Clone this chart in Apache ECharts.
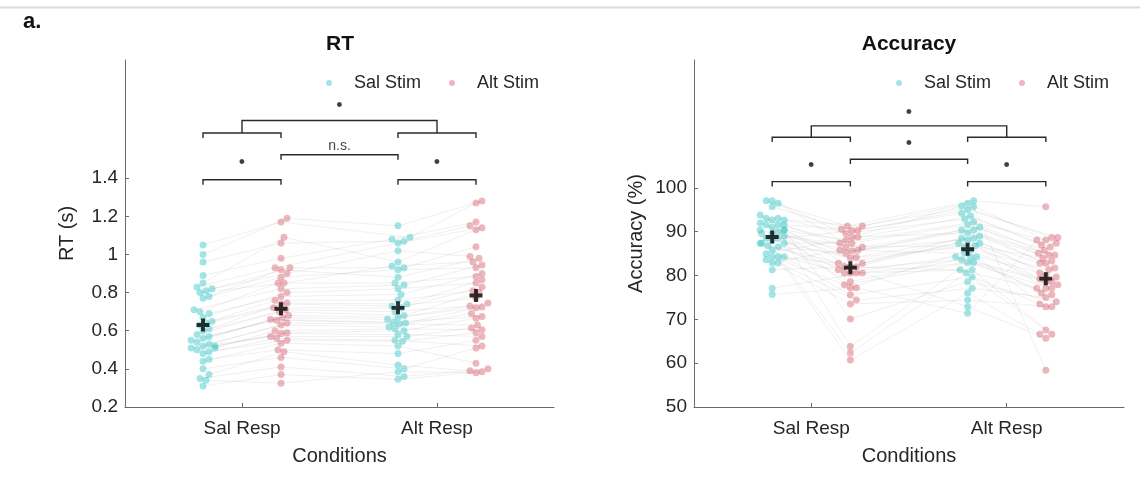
<!DOCTYPE html>
<html><head><meta charset="utf-8">
<script src="https://cdn.jsdelivr.net/npm/echarts@6/dist/echarts.min.js"></script>
<style>html,body{margin:0;padding:0;background:#fff}#c{width:1140px;height:481px}</style>
</head><body><div id="c"></div><script>
// ---------- data ----------
const conditions = ['Sal Resp', 'Alt Resp'];
const stimNames = ['Sal Stim', 'Alt Stim'];
const rtTicks = [0.2, 0.4, 0.6, 0.8, 1, 1.2, 1.4];
const accTicks = [50, 60, 70, 80, 90, 100];

// RT (s), one value per subject
const rtSalRespSalStim = [1.05, 1.00, 0.96, 0.89, 0.85, 0.83, 0.82, 0.81, 0.80, 0.78, 0.77, 0.71, 0.70, 0.69, 0.67, 0.65, 0.64, 0.63, 0.61, 0.60, 0.58, 0.57, 0.56, 0.55, 0.54, 0.53, 0.52, 0.52, 0.51, 0.51, 0.50, 0.49, 0.48, 0.45, 0.44, 0.40, 0.37, 0.35, 0.34, 0.31];
const rtSalRespAltStim = [1.17, 1.19, 1.06, 0.98, 1.09, 0.93, 0.90, 0.93, 0.85, 0.92, 0.88, 0.82, 0.85, 0.78, 0.80, 0.745, 0.76, 0.72, 0.74, 0.70, 0.71, 0.67, 0.68, 0.655, 0.66, 0.63, 0.64, 0.59, 0.60, 0.57, 0.585, 0.55, 0.56, 0.50, 0.535, 0.46, 0.49, 0.41, 0.325, 0.37];
const rtAltRespSalStim = [1.09, 1.15, 1.07, 1.08, 0.96, 1.06, 1.02, 0.93, 0.94, 0.88, 0.92, 0.84, 0.85, 0.79, 0.82, 0.74, 0.76, 0.72, 0.73, 0.68, 0.70, 0.66, 0.67, 0.64, 0.645, 0.62, 0.635, 0.60, 0.61, 0.57, 0.58, 0.545, 0.55, 0.48, 0.52, 0.40, 0.42, 0.36, 0.385, 0.345];
const rtAltRespAltStim = [1.27, 1.28, 1.15, 1.17, 1.13, 1.14, 0.99, 1.04, 0.96, 0.98, 0.93, 0.945, 0.885, 0.90, 0.85, 0.867, 0.81, 0.83, 0.77, 0.80, 0.73, 0.745, 0.72, 0.725, 0.675, 0.69, 0.63, 0.665, 0.605, 0.615, 0.57, 0.59, 0.52, 0.55, 0.43, 0.51, 0.39, 0.40, 0.38, 0.385];
const rtMeans = [0.63, 0.715, 0.72, 0.785];

// Accuracy (%), one value per subject
const accSalRespSalStim = [97.1, 97.1, 96.5, 95.7, 93.8, 93.1, 93.1, 92.7, 92.7, 92.0, 91.6, 91.6, 91.6, 91.0, 90.4, 90.4, 90.4, 90.0, 89.6, 89.6, 89.0, 88.5, 88.5, 88.1, 87.4, 87.4, 87.4, 86.8, 86.5, 85.8, 85.0, 84.3, 84.3, 84.3, 83.6, 82.9, 82.9, 81.3, 77.1, 75.7];
const accSalRespAltStim = [88.8, 91.3, 85.8, 90.3, 82.0, 89.6, 86.5, 63.8, 91.3, 84.2, 87.4, 80.6, 90.6, 77.2, 70.1, 85.6, 88.1, 82.8, 81.3, 62.3, 86.5, 90.3, 78.6, 84.0, 80.6, 87.4, 75.6, 82.0, 85.1, 60.7, 88.8, 77.9, 82.8, 80.6, 73.5, 85.8, 74.4, 82.0, 80.6, 77.2];
const accAltRespSalStim = [95.9, 97.1, 90.4, 94.2, 88.6, 92.9, 86.8, 84.3, 96.5, 89.0, 91.6, 81.3, 95.7, 85.8, 78.6, 88.5, 93.6, 87.4, 83.6, 80.6, 91.0, 95.0, 84.2, 86.5, 83.0, 92.2, 79.7, 88.1, 90.4, 76.0, 89.7, 82.9, 87.4, 84.3, 74.4, 85.1, 77.1, 81.3, 72.9, 71.4];
const accAltRespAltStim = [88.7, 95.7, 81.7, 87.0, 79.2, 84.7, 77.1, 72.9, 88.1, 82.8, 85.8, 66.6, 58.4, 78.6, 74.0, 80.0, 86.5, 84.0, 77.9, 67.6, 83.3, 88.7, 76.0, 81.3, 75.6, 87.4, 73.5, 79.7, 84.7, 66.6, 85.1, 77.1, 82.8, 78.6, 72.9, 80.6, 75.0, 77.1, 65.7, 88.1];
const accMeans = [88.8, 81.8, 86.0, 79.3];

// significance marks: [Sal Resp pair, middle, Alt Resp pair, main effect]
const rtSig = ['•', 'n.s.', '•', '•'];
const accSig = ['•', '•', '•', '•'];

// ---------- layout / style ----------
const FONT = '"Liberation Sans", Arial, Helvetica, sans-serif';
const TXT = '#262626';
const AXIS = '#6a6a6a';
const TEAL = 'rgba(46,196,196,0.55)';
const RED = 'rgba(205,55,75,0.45)';
const xPos = [0.8, 1.2, 1.8, 2.2];
const X_MIN = 0.4, X_MAX = 2.6;
const grids = [
  {left: 125, top: 60, width: 429, height: 347},
  {left: 694, top: 60, width: 430, height: 347}
];
const yRanges = [[0.2, 2.02], [50, 129.2]];
// bracket heights in data units
const rtBr = {low: 1.392, star: 1.481, mid: 1.523, midLabel: 1.566, up: 1.637, top: 1.703, topStar: 1.780, drop: 0.026};
const accBr = {low: 101.44, star: 105.1, mid: 106.55, midLabel: 110.05, up: 111.58, top: 114.16, topStar: 117.0, drop: 1.1};

function swarm(vals, pxY, pxX) {
  const diam = 6, maxPx = 12;
  const order = vals.map((v, i) => i).sort((a, b) => vals[a] - vals[b] || a - b);
  const placed = [];
  const off = new Array(vals.length).fill(0);
  for (const i of order) {
    const y = vals[i] * pxY;
    let best = 0;
    for (let k = 0; k < 60; k++) {
      const c = (k % 2 ? 1 : -1) * Math.ceil(k / 2) * 1.5;
      if (placed.every(p => Math.hypot(p.x - c, p.y - y) >= diam)) { best = c; break; }
    }
    best = Math.max(-maxPx, Math.min(maxPx, best));
    placed.push({x: best, y});
    off[i] = best / pxX;
  }
  return off;
}

function panel(p, groups, means, br, sig) {
  const g = grids[p], yr = yRanges[p];
  const pxY = g.height / (yr[1] - yr[0]);
  const pxX = g.width / (X_MAX - X_MIN);
  const offs = groups.map(v => swarm(v, pxY, pxX));
  const pts = groups.map((v, gi) => v.map((y, i) => [xPos[gi] + offs[gi][i], y]));
  const common = {xAxisIndex: p, yAxisIndex: p, silent: true, animation: false};
  const d = br.drop;
  const bracket = (x1, x2, y) => ({coords: [[x1, y - d], [x1, y], [x2, y], [x2, y - d]]});
  const sigFont = s => (s === 'n.s.' ? 14 : 18);
  return [
    Object.assign({
      name: 'subjects' + p, type: 'lines', coordinateSystem: 'cartesian2d', polyline: true, z: 1,
      lineStyle: {color: 'rgba(150,150,150,0.28)', width: 1},
      data: groups[0].map((_, i) => ({coords: pts.map(gp => gp[i])}))
    }, common),
    Object.assign({
      name: stimNames[0], type: 'scatter', z: 2, symbolSize: 7,
      itemStyle: {color: TEAL}, data: pts[0].concat(pts[2])
    }, common),
    Object.assign({
      name: stimNames[1], type: 'scatter', z: 2, symbolSize: 7,
      itemStyle: {color: RED}, data: pts[1].concat(pts[3])
    }, common),
    Object.assign({
      name: 'mean' + p, type: 'scatter', z: 5, symbolSize: 13,
      symbol: 'path://M3.5,0H6.5V3.5H10V6.5H6.5V10H3.5V6.5H0V3.5H3.5Z',
      itemStyle: {color: '#000'},
      data: xPos.map((x, i) => [x, means[i]])
    }, common),
    Object.assign({
      name: 'brackets' + p, type: 'lines', coordinateSystem: 'cartesian2d', polyline: true, z: 3,
      lineStyle: {color: '#2a2a2a', width: 1.4, opacity: 1},
      data: [
        bracket(xPos[0], xPos[1], br.low),
        bracket(xPos[2], xPos[3], br.low),
        bracket(xPos[1], xPos[2], br.mid),
        bracket(xPos[0], xPos[1], br.up),
        bracket(xPos[2], xPos[3], br.up),
        {coords: [[1, br.up], [1, br.top], [2, br.top], [2, br.up]]}
      ]
    }, common),
    Object.assign({
      name: 'sig' + p, type: 'scatter', z: 4, symbolSize: 1,
      itemStyle: {color: 'rgba(0,0,0,0)'},
      label: {show: true, position: 'inside', formatter: '{b}', color: '#111', fontFamily: FONT},
      data: [
        {name: sig[0], value: [1, br.star], label: {fontSize: sigFont(sig[0])}},
        {name: sig[1], value: [1.5, br.midLabel], label: {fontSize: sigFont(sig[1])}},
        {name: sig[2], value: [2, br.star], label: {fontSize: sigFont(sig[2])}},
        {name: sig[3], value: [1.5, br.topStar], label: {fontSize: sigFont(sig[3])}}
      ]
    }, common)
  ];
}

function xAxis(p) {
  return {
    type: 'value', gridIndex: p, min: X_MIN, max: X_MAX,
    name: 'Conditions', nameLocation: 'middle', nameGap: 39,
    nameTextStyle: {fontSize: 20, color: TXT, fontFamily: FONT},
    axisLine: {show: true, lineStyle: {color: AXIS, width: 1}},
    axisTick: {show: true, inside: true, length: 4, customValues: [1, 2], lineStyle: {color: AXIS}},
    axisLabel: {customValues: [1, 2], margin: 12, fontSize: 19, color: TXT, fontFamily: FONT,
      formatter: v => conditions[Math.round(v) - 1]},
    splitLine: {show: false}
  };
}
function yAxis(p, name, ticks) {
  return {
    type: 'value', gridIndex: p, min: yRanges[p][0], max: yRanges[p][1],
    name: name, nameLocation: 'middle', nameGap: 48, nameRotate: 90,
    nameTextStyle: {fontSize: 20, color: TXT, fontFamily: FONT},
    axisLine: {show: true, lineStyle: {color: AXIS, width: 1}},
    axisTick: {show: true, inside: true, length: 4, customValues: ticks, lineStyle: {color: AXIS}},
    axisLabel: {customValues: ticks, margin: 7, fontSize: 19, color: TXT, fontFamily: FONT,
      formatter: v => String(+v.toFixed(2))},
    splitLine: {show: false}
  };
}
function legend(left, gap) {
  return {
    left: left, top: 74, padding: 0, orient: 'horizontal', icon: 'circle',
    itemWidth: 40, itemHeight: 6, itemGap: gap, selectedMode: false,
    data: stimNames,
    textStyle: {fontSize: 18, color: TXT, fontFamily: FONT}
  };
}

const option = {
  backgroundColor: '#fff',
  animation: false,
  title: [
    {text: 'RT', left: 340, top: 34, textAlign: 'center', padding: 0,
      textStyle: {fontSize: 21, fontWeight: 'bold', color: '#111', fontFamily: FONT}},
    {text: 'Accuracy', left: 909, top: 34, textAlign: 'center', padding: 0,
      textStyle: {fontSize: 21, fontWeight: 'bold', color: '#111', fontFamily: FONT}}
  ],
  legend: [legend(326, 28), legend(896, 28)],
  grid: grids.map(g => Object.assign({containLabel: false}, g)),
  xAxis: [xAxis(0), xAxis(1)],
  yAxis: [yAxis(0, 'RT (s)', rtTicks), yAxis(1, 'Accuracy (%)', accTicks)],
  graphic: [
    {type: 'line', shape: {x1: 0, y1: 7.5, x2: 1140, y2: 7.5}, style: {stroke: '#dcdcdc', lineWidth: 2}, silent: true},
    {type: 'text', left: 23, top: 11, style: {text: 'a.', fontSize: 22, fontWeight: 'bold', fill: '#111', fontFamily: FONT}, silent: true}
  ],
  series: [].concat(
    panel(0, [rtSalRespSalStim, rtSalRespAltStim, rtAltRespSalStim, rtAltRespAltStim], rtMeans, rtBr, rtSig),
    panel(1, [accSalRespSalStim, accSalRespAltStim, accAltRespSalStim, accAltRespAltStim], accMeans, accBr, accSig)
  )
};
const chart = echarts.init(document.getElementById('c'));
chart.setOption(option);
</script></body></html>
